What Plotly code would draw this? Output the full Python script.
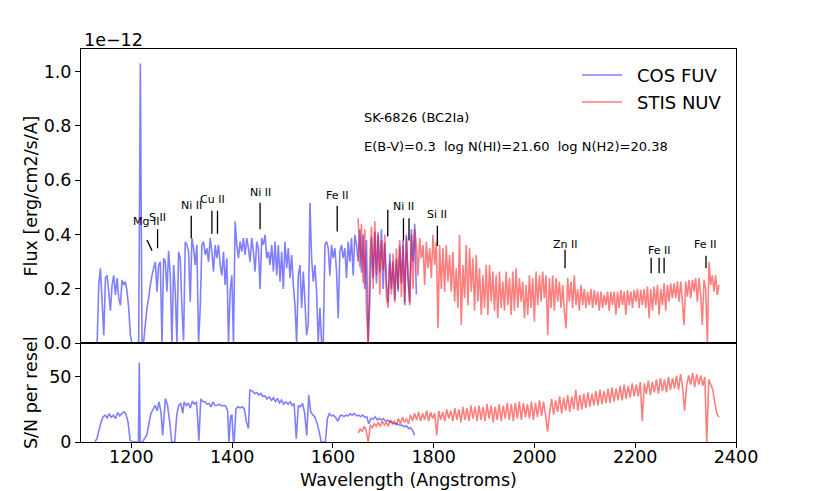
import plotly.graph_objects as go

# ---------------- data ----------------
STEP = 3.3                      # Angstrom sampling of the flux lists
cos_wave_start = 1132.0         # first COS FUV flux sample
stis_wave_start = 1650.1        # first STIS NUV flux sample

# COS FUV flux, units of 1e-12 erg/cm2/s/A
cos_flux = [
    0.0, 0.215, 0.276, 0.153, 0.03, 0.24, 0.25, 0.19, 0.12, 0.215,
    0.25, 0.178, 0.24, 0.166, 0.14, 0.233, 0.215, 0.227, 0.19, 0.13,
    0.03, 0.0, 0.0, 0.0, 0.0, 0.0, 1.03, 0.0, 0.005, 0.07,
    0.13, 0.166, 0.215, 0.25, 0.276, 0.30, 0.19, 0.288, 0.30, 0.0,
    0.313, 0.30, 0.19, 0.34, 0.25, 0.0, 0.288, 0.19, 0.0, 0.337,
    0.313, 0.13, 0.01, 0.374, 0.362, 0.337, 0.153, 0.387, 0.35, 0.288,
    0.362, 0.0, 0.13, 0.362, 0.374, 0.325, 0.35, 0.30, 0.387, 0.337,
    0.264, 0.362, 0.313, 0.362, 0.288, 0.25, 0.337, 0.215, 0.313, 0.0,
    0.19, 0.25, 0.0, 0.448, 0.362, 0.313, 0.374, 0.337, 0.387, 0.325,
    0.387, 0.35, 0.30, 0.387, 0.337, 0.264, 0.374, 0.35, 0.20, 0.387,
    0.362, 0.399, 0.313, 0.337, 0.288, 0.362, 0.264, 0.374, 0.25, 0.362,
    0.227, 0.337, 0.20, 0.374, 0.276, 0.35, 0.24, 0.325, 0.215, 0.14,
    0.0, 0.25, 0.288, 0.13, 0.264, 0.153, 0.03, 0.07, 0.516, 0.313,
    0.227, 0.288, 0.19, 0.0, 0.13, 0.0, 0.0, 0.362, 0.374, 0.35,
    0.25, 0.362, 0.313, 0.35, 0.264, 0.092, 0.337, 0.362, 0.313, 0.35,
    0.24, 0.374, 0.30, 0.387, 0.25, 0.399, 0.362,
    0.30, 0.42, 0.26, 0.40, 0.20, 0.38, 0.0, 0.15, 0.39, 0.24,
    0.41, 0.22, 0.40, 0.26, 0.42, 0.20, 0.37, 0.22, 0.15, 0.33,
    0.20, 0.30, 0.16, 0.31, 0.19, 0.36, 0.22, 0.38, 0.14, 0.40,
    0.25, 0.15, 0.42, 0.30, 0.44, 0.18,
]

# STIS NUV flux, units of 1e-12 erg/cm2/s/A
stis_flux = [
    0.46, 0.28, 0.44, 0.22, 0.42, 0.12, 0.0, 0.30, 0.43, 0.20,
    0.45, 0.25, 0.41, 0.18, 0.38, 0.27, 0.40, 0.17, 0.13, 0.30,
    0.18, 0.33, 0.15, 0.35, 0.20, 0.38, 0.17, 0.36, 0.15, 0.39,
    0.23, 0.14, 0.40, 0.20, 0.42,
    0.362, 0.25, 0.387, 0.313, 0.362, 0.215, 0.374, 0.276, 0.35, 0.24,
    0.399, 0.288, 0.374, 0.055, 0.362, 0.20, 0.35, 0.19, 0.362, 0.227,
    0.325, 0.19, 0.337, 0.153, 0.276, 0.13, 0.399, 0.067, 0.288, 0.166,
    0.362, 0.14, 0.35, 0.19, 0.313, 0.12, 0.325, 0.153, 0.276, 0.104,
    0.25, 0.13, 0.288, 0.104, 0.288, 0.153, 0.264, 0.12, 0.25, 0.092,
    0.264, 0.13, 0.227, 0.12, 0.264, 0.14, 0.24, 0.104, 0.264, 0.12,
    0.276, 0.13, 0.24, 0.153, 0.227, 0.092, 0.215, 0.104, 0.25, 0.13,
    0.24, 0.08, 0.264, 0.14, 0.25, 0.153, 0.264, 0.166, 0.25, 0.03,
    0.24, 0.13, 0.25, 0.12, 0.24, 0.153, 0.227, 0.13, 0.215, 0.12,
    0.055, 0.24, 0.153, 0.227, 0.13, 0.25, 0.14, 0.20, 0.12, 0.215,
    0.14, 0.20, 0.13, 0.19, 0.14, 0.20, 0.13, 0.196, 0.14, 0.19,
    0.12, 0.19, 0.13, 0.178, 0.14, 0.19, 0.12, 0.19, 0.14, 0.19,
    0.104, 0.19, 0.13, 0.196, 0.14, 0.19, 0.104, 0.196, 0.14, 0.19,
    0.13, 0.196, 0.153, 0.20, 0.13, 0.196, 0.14, 0.20, 0.13, 0.209,
    0.092, 0.20, 0.12, 0.209, 0.14, 0.215, 0.104, 0.20, 0.14, 0.221,
    0.12, 0.215, 0.153, 0.221, 0.166, 0.221, 0.166, 0.227, 0.153, 0.227,
    0.153, 0.067, 0.227, 0.172, 0.233, 0.166, 0.233, 0.19, 0.24, 0.153,
    0.24, 0.178, 0.067, 0.233, 0.20, 0.0, 0.30, 0.215, 0.25, 0.19,
    0.25, 0.178, 0.215,
]

# S/N per resel, COS FUV
sn_cos_wave = [
    1127.5, 1131.6, 1139.8, 1144, 1148, 1152, 1156, 1160, 1164.6, 1168.5,
    1172.8, 1177, 1181, 1185, 1189, 1193.4, 1197.5, 1201.6, 1214, 1215.7,
    1217.5, 1222, 1230.5, 1238.7, 1243, 1247, 1251, 1255, 1259, 1262,
    1267.6, 1271.7, 1276, 1280, 1286, 1290, 1294, 1298, 1302, 1304.7,
    1309, 1313, 1317, 1321, 1325, 1329.4, 1334, 1337.7, 1342, 1346,
    1350, 1354, 1358, 1362.4, 1366, 1370.6, 1375, 1378.9, 1383, 1387,
    1391, 1393.5, 1397, 1399.5, 1402.5, 1404, 1407.7, 1412, 1416, 1420,
    1424, 1428.3, 1432.4, 1435, 1440.7, 1445, 1449, 1453, 1457, 1461,
    1465.5, 1469, 1473.7, 1478, 1482, 1486, 1490, 1494, 1498, 1502,
    1506.7, 1511, 1515, 1519, 1523, 1527.3, 1531.4, 1535, 1539.7, 1544,
    1548, 1552, 1556, 1560, 1564, 1568, 1572.6, 1576.7, 1585, 1589,
    1593, 1597, 1601, 1605, 1609.7, 1614, 1618, 1622, 1626, 1630,
    1634.4, 1638, 1642.7, 1647, 1651, 1655, 1659, 1663, 1667.4, 1671,
    1675.7, 1680, 1684, 1688, 1692, 1696, 1700.4, 1704, 1708.6, 1713,
    1717, 1721, 1725, 1729, 1733.4, 1737, 1741.6, 1746, 1750, 1754,
    1758, 1762,
]
sn_cos = [
    0, 2.6, 15.4, 19.3, 20.6, 18.5, 21.8, 19.0, 20.6, 18.0,
    22.6, 20.0, 21.8, 23.1, 21.8, 15.4, 1.3, 0, 0, 61,
    0, 0, 5.2, 21.8, 25, 28.2, 24, 30.8, 22, 5,
    33.4, 28.2, 15.4, 0, 0, 20.6, 28.2, 29.5, 22, 30.8,
    28, 30, 26, 31.3, 29, 30.8, 1, 32.9, 31, 30.8,
    29, 29.5, 27, 30.8, 28, 28.2, 29, 27.7, 28, 27.7,
    24, 0, 20, 20.6, 0, 1, 25.6, 27, 26.2, 27,
    25.6, 15.4, 10.3, 39.8, 39, 37, 38, 36, 37.2, 35,
    35.4, 33, 34.6, 32, 33.9, 31, 33.4, 30, 32.1, 29,
    30.8, 29, 30.8, 28, 29.5, 2.6, 28.2, 27, 29.5, 22,
    5, 35.9, 23.1, 21, 19.3, 15, 8.2, 0, 0, 18,
    21.8, 20, 20.6, 19, 16, 20, 20.6, 19.5, 20.6, 20,
    21.8, 20.5, 21.8, 20, 20.6, 19.5, 20.6, 19, 19.3, 14,
    18, 17.5, 19.3, 17, 18, 17, 18, 16, 16.7, 15.5,
    15.4, 14, 14.1, 13.5, 12.9, 13, 11.6, 12.5, 10.3, 11,
    9, 5.2,
]

# S/N per resel, STIS NUV (sampled every 4 A from 1650 A)
sn_stis_start = 1650.0
sn_stis_step = 4.0
sn_stis = [
    7, 10, 8, 12, 9, 0, 13, 11, 14, 12,
    15, 12, 16, 13, 15, 12, 17, 14, 16, 13,
    18, 14, 19, 15, 18, 14, 21, 16, 22, 17,
    23, 16, 22, 17, 24, 16, 23, 18, 22, 5,
    24, 17, 23, 16, 25, 18, 24, 16, 26, 17,
    25, 15, 27, 17, 26, 16, 28, 18, 27, 16,
    28, 17, 27, 16, 29, 18, 28, 15, 27, 17,
    29, 16, 28, 18, 30, 17, 29, 16, 30, 18,
    31, 17, 30, 19, 29, 18, 31, 17, 30, 19,
    32, 20, 31, 21, 8, 22, 33, 21, 32, 23,
    35, 22, 34, 24, 36, 23, 35, 25, 40, 24,
    36, 25, 37, 26, 38, 27, 37, 28, 39, 28,
    40, 29, 39, 30, 41, 30, 42, 31, 41, 32,
    43, 32, 44, 33, 43, 34, 45, 35, 44, 35,
    46, 16, 45, 37, 47, 36, 46, 38, 48, 37,
    49, 39, 48, 38, 50, 40, 49, 41, 51, 40,
    52, 42, 24, 43, 51, 44, 53, 42, 52, 44,
    51, 43, 50, 0, 48, 44, 40, 30, 22, 19,
]

# interstellar line markers (wavelength, label height and tick extent in flux units)
ion_labels = ["Mg II", "S II", "Ni II", "Cu II", "Ni II", "Fe II", "Ni II", "Si II", "Zn II", "Fe II", "Fe II"]
label_wave = [1229, 1252, 1318.8, 1360, 1455.4, 1608.5, 1741, 1806.5, 2060.7, 2247.4, 2337.9]
label_y = [0.448, 0.463, 0.507, 0.528, 0.555, 0.544, 0.503, 0.473, 0.363, 0.341, 0.363]
tick_wave0 = [1231, 1252, 1318.8, 1359.8, 1370.9, 1455.4, 1608.5, 1708.9, 1740, 1751, 1807.3, 2060.7, 2231.6, 2247.4, 2257.3, 2340.5]
tick_wave1 = [1241, 1252, 1318.8, 1359.8, 1370.9, 1455.4, 1608.5, 1708.9, 1740, 1751, 1807.3, 2060.7, 2231.6, 2247.4, 2257.3, 2340.5]
tick_top = [0.380, 0.420, 0.469, 0.488, 0.488, 0.517, 0.506, 0.491, 0.460, 0.460, 0.433, 0.344, 0.315, 0.315, 0.315, 0.322]
tick_bot = [0.341, 0.350, 0.387, 0.403, 0.403, 0.420, 0.411, 0.393, 0.378, 0.378, 0.358, 0.276, 0.258, 0.258, 0.258, 0.276]

x_ticks = [1200, 1400, 1600, 1800, 2000, 2200, 2400]
flux_ticks = [0.0, 0.2, 0.4, 0.6, 0.8, 1.0]
sn_ticks = [0, 50]

# ---------------- figure ----------------
BLUE = "rgba(0,0,255,0.5)"
RED = "rgba(255,0,0,0.5)"
FONT = "DejaVu Sans"

cos_wave = [cos_wave_start + STEP * i for i in range(len(cos_flux))]
stis_wave = [stis_wave_start + STEP * i for i in range(len(stis_flux))]
sn_stis_wave = [sn_stis_start + sn_stis_step * i for i in range(len(sn_stis))]

fig = go.Figure()
fig.add_trace(go.Scatter(x=cos_wave, y=cos_flux, mode="lines", name="COS FUV",
                         line=dict(color=BLUE, width=1.6, simplify=False),
                         xaxis="x", yaxis="y"))
fig.add_trace(go.Scatter(x=stis_wave, y=stis_flux, mode="lines", name="STIS NUV",
                         line=dict(color=RED, width=1.6, simplify=False),
                         xaxis="x", yaxis="y"))
fig.add_trace(go.Scatter(x=sn_cos_wave, y=sn_cos, mode="lines", showlegend=False,
                         line=dict(color=BLUE, width=1.6, simplify=False),
                         xaxis="x2", yaxis="y2"))
fig.add_trace(go.Scatter(x=sn_stis_wave, y=sn_stis, mode="lines", showlegend=False,
                         line=dict(color=RED, width=1.6, simplify=False),
                         xaxis="x2", yaxis="y2"))

shapes = []
for w0, w1, y0, y1 in zip(tick_wave0, tick_wave1, tick_top, tick_bot):
    shapes.append(dict(type="line", xref="x", yref="y", x0=w0, x1=w1, y0=y0, y1=y1,
                       line=dict(color="black", width=1.3)))

annotations = []
for lab, w, y in zip(ion_labels, label_wave, label_y):
    annotations.append(dict(x=w, y=y, xref="x", yref="y", text=lab, showarrow=False,
                            xanchor="center", yanchor="middle",
                            font=dict(family=FONT, size=11, color="black")))

# page geometry: the page body adds an 8 px offset, so the figure is 8 px smaller
OFF = 8
W, H = 817 - OFF, 491 - OFF
L, R, T, B = 81 - OFF, 81, 49 - OFF, 49
PW, PH = W - L - R, H - T - B
def px(x):
    return (x - OFF - L) / PW
def py(y):
    return (H - B - (y - OFF)) / PH
split = py(343.3)

annotations += [
    dict(x=1657.4, y=0.830, xref="x", yref="y", text="SK-6826 (BC2Ia)", showarrow=False,
         xanchor="left", yanchor="middle", font=dict(family=FONT, size=13, color="black")),
    dict(x=1657.4, y=0.723, xref="x", yref="y",
         text="E(B-V)=0.3\u00a0\u00a0log N(HI)=21.60\u00a0\u00a0log N(H2)=20.38", showarrow=False,
         xanchor="left", yanchor="middle", font=dict(family=FONT, size=13, color="black")),
    dict(x=px(82), y=py(40), xref="paper", yref="paper", text="1e\u221212", showarrow=False,
         xanchor="left", yanchor="middle", font=dict(family=FONT, size=17.5, color="black")),
    dict(x=px(30.5), y=py(196), xref="paper", yref="paper", text="Flux [erg/cm2/s/A]",
         showarrow=False, textangle=-90, xanchor="center", yanchor="middle",
         font=dict(family=FONT, size=17.5, color="black")),
    dict(x=px(30.5), y=py(392.5), xref="paper", yref="paper", text="S/N per resel",
         showarrow=False, textangle=-90, xanchor="center", yanchor="middle",
         font=dict(family=FONT, size=17.5, color="black")),
    dict(x=0.5, y=py(480), xref="paper", yref="paper", text="Wavelength (Angstroms)",
         showarrow=False, xanchor="center", yanchor="middle",
         font=dict(family=FONT, size=17.5, color="black")),
    dict(x=px(635), y=py(75), xref="paper", yref="paper", text="COS FUV", showarrow=False,
         xanchor="left", yanchor="middle", font=dict(family=FONT, size=18, color="black")),
    dict(x=px(635), y=py(102), xref="paper", yref="paper", text="STIS NUV", showarrow=False,
         xanchor="left", yanchor="middle", font=dict(family=FONT, size=18, color="black")),
]
shapes += [
    dict(type="line", xref="paper", yref="paper", x0=px(582), x1=px(622), y0=py(75), y1=py(75),
         line=dict(color=BLUE, width=1.6)),
    dict(type="line", xref="paper", yref="paper", x0=px(582), x1=px(622), y0=py(102), y1=py(102),
         line=dict(color=RED, width=1.6)),
]

axis_common = dict(showline=True, linecolor="black", linewidth=1, mirror=True,
                   showgrid=False, zeroline=False, ticks="outside", ticklen=5,
                   tickwidth=1, tickcolor="black",
                   tickfont=dict(family=FONT, size=17.5, color="black"))
top_x = dict(axis_common)
top_x["ticks"] = ""

fig.update_layout(
    width=W, height=H,
    margin=dict(l=L, r=R, t=T, b=B, pad=0),
    paper_bgcolor="white", plot_bgcolor="white",
    showlegend=False,
    xaxis=dict(domain=[0, 1], range=[1100, 2400], anchor="y", showticklabels=False,
               tickvals=x_ticks, **top_x),
    yaxis=dict(domain=[split, 1], range=[0, 1.083], anchor="x", tickvals=flux_ticks,
               tickformat=".1f", **axis_common),
    xaxis2=dict(domain=[0, 1], range=[1100, 2400], anchor="y2", matches="x",
                tickvals=x_ticks, ticklabelstandoff=-6, **axis_common),
    yaxis2=dict(domain=[0, split], range=[0, 75.7], anchor="x2", tickvals=sn_ticks,
                **axis_common),
    shapes=shapes,
    annotations=annotations,
)

fig.write_html("out.html")
